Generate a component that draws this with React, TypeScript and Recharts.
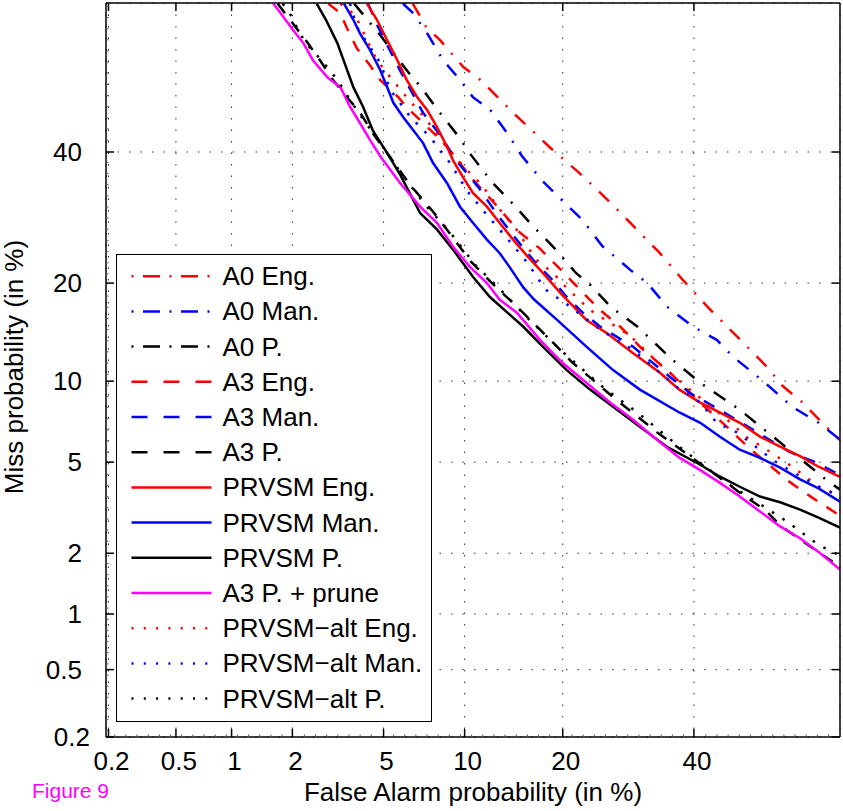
import React from "react";
import { CartesianGrid, Legend, Line, LineChart, XAxis, YAxis } from "recharts";

// DET plot: miss vs false alarm, both on a normal-deviate (probit) scale.
// Values below are in percent.

const tickValues = [0.2, 0.5, 1, 2, 5, 10, 20, 40];
const tickLabels = ["0.2", "0.5", "1", "2", "5", "10", "20", "40"];
const xLimits = [0.193, 65.6];
const yLimits = [0.2, 66.1];

const a0EngFA = [6.5, 7.3, 8.2, 9.9, 11.3, 14.5, 18.5, 21.8, 24, 27.4, 31, 34.2, 38.1, 42.3, 48.1, 52.9, 55.8, 59.3, 62.6, 65.6];
const a0EngMiss = [66, 62.1, 59.8, 55.1, 52.8, 46.7, 40.7, 36.8, 34.3, 30.6, 26.9, 24, 20.4, 17.2, 13.7, 11.2, 9.6, 8.4, 7.1, 6.1];

const a0ManFA = [5.96, 6.53, 7.36, 8.41, 9.64, 10.67, 12.14, 13.85, 15.28, 17.54, 20.49, 22.6, 25.3, 29.5, 32.2, 35.4, 39.8, 44, 46.9, 50.4, 54, 57.4, 62, 65.6];
const a0ManMiss = [66, 64.4, 61, 56.3, 52.8, 49.7, 47.5, 43.1, 39.3, 35.1, 31.2, 28.8, 25, 21.7, 20, 17.2, 15, 13.65, 12.05, 10.7, 9.35, 8.13, 7.1, 6.13];

const a0PFA = [3.78, 4.84, 6.24, 7.04, 7.99, 9.5, 10.51, 12.32, 14.55, 16.26, 18.8, 21.7, 23.6, 26.5, 30.6, 36.3, 41.1, 48.1, 53.1, 63.5, 65.6];
const a0PMiss = [66, 60.7, 54.2, 51.3, 47.6, 42.8, 39.5, 34.9, 31, 28.2, 24.9, 21.3, 19.8, 17.2, 15, 11.8, 9.87, 7.93, 6.53, 4.2, 3.85];

const a3EngFA = [2.92, 3.3, 3.52, 3.88, 4.4, 4.84, 5.72, 6.16, 7.04, 8.34, 10.76, 12.79, 15.05, 17.27, 19.78, 22.37, 25, 27.95, 31.5, 35.9, 41.1, 45.8, 49.7, 56.9, 60.9, 65.6];
const a3EngMiss = [66, 64.4, 61.9, 58.4, 55.4, 52.8, 49.7, 47.9, 45.3, 41.9, 35.1, 31, 26.95, 24.6, 21.7, 19.05, 16.8, 15, 12.7, 10.7, 8.4, 6.86, 5.7, 4.16, 3.56, 2.97];

const a3ManFA = [4.32, 4.75, 5.82, 7.11, 8.2, 9.34, 11.1, 12.9, 14.55, 16.6, 18.9, 20.5, 22.6, 25, 29.9, 33.8, 39.3, 44.5, 50.4, 56.9, 61.2, 65.6];
const a3ManMiss = [66, 62.1, 54.4, 46.9, 43, 38.6, 34.1, 29.5, 26.2, 22.9, 20.2, 18.3, 16.5, 15, 13, 11.2, 9.1, 7.93, 6.7, 5.5, 5.02, 4.44];

const a3PFA = [1.7, 1.95, 2.36, 2.7, 3.06, 3.52, 4, 4.52, 5.17, 6.36, 7.74, 9.11, 10.51, 12.32, 14.36, 16.5, 18.9, 21.3, 24, 26.9, 30.6, 33.8, 41.1, 44.5, 48.1, 52.8, 55.3, 58.8, 62.4, 65.6];
const a3PMiss = [66, 63.3, 59.3, 56.1, 52.8, 49.7, 47, 43.3, 39.8, 34.4, 30.1, 26.2, 22.8, 20, 17.6, 15.4, 13.3, 11.5, 10.1, 8.8, 7.5, 6.53, 4.93, 4.33, 3.74, 3.12, 2.69, 2.32, 1.99, 1.72];

const prvsmEngFA = [4.28, 4.7, 5.17, 5.67, 6.16, 6.76, 7.36, 7.99, 8.69, 9.11, 9.87, 10.67, 11.87, 13.03, 14.36, 15.9, 17.6, 19.7, 23.1, 26, 29.9, 34.2, 37.5, 41.1, 44.5, 48.1, 51.7, 55.3, 58.8, 62, 65.6];
const prvsmEngMiss = [66, 63.3, 59.8, 56.3, 52.8, 49.7, 47.4, 44.4, 40.9, 38.6, 35.7, 33.1, 30.9, 28.4, 25.9, 23.5, 21.3, 18.8, 15.7, 14.3, 12.4, 10.7, 9.35, 8.41, 7.75, 7.1, 6.3, 5.76, 5.28, 4.79, 4.35];

const prvsmManFA = [3.42, 3.75, 4, 4.4, 4.84, 5.17, 5.47, 5.96, 6.53, 7.1, 7.74, 8.69, 9.64, 10.67, 11.87, 13.03, 14, 15.4, 16.6, 19.3, 23.1, 26.9, 31, 37.5, 41.1, 44.5, 48.1, 51.7, 55.3, 58.8, 62, 65.6];
const prvsmManMiss = [66, 63.3, 61, 58.1, 54.6, 51.5, 48.7, 46.2, 43.8, 41.6, 38.1, 34.7, 30.9, 28.4, 25.9, 24, 22.1, 19.5, 18, 15.7, 13, 10.9, 9.35, 7.75, 7.1, 6.3, 5.6, 5.2, 4.75, 4.25, 3.9, 3.42];

const prvsmPFA = [2.59, 2.85, 3.2, 3.42, 3.75, 4.12, 4.52, 5.17, 5.82, 6.93, 7.99, 9.11, 10.67, 12.14, 15.4, 17.6, 20.5, 23.6, 26.9, 31, 35.4, 41.1, 44.5, 48.1, 51.7, 55.3, 58.8, 62, 65.6];
const prvsmPMiss = [66, 63.3, 59.3, 56.1, 51.5, 48, 43.8, 39.8, 36.1, 29.9, 27.4, 24.5, 20.8, 18.3, 15, 13, 10.9, 9.35, 8.13, 6.86, 5.75, 4.88, 4.37, 3.96, 3.6, 3.4, 3.16, 2.91, 2.63];

const pruneFA = [1.62, 1.76, 2.01, 2.25, 2.49, 2.9, 3.3, 3.63, 4, 4.4, 4.88, 5.82, 6.93, 7.99, 9.11, 10.43, 11.87, 13.03, 14.75, 17.27, 20, 23.1, 26.5, 29.9, 33.1, 37.5, 41.1, 44.5, 48.1, 51.7, 55.3, 58.8, 62, 65.6];
const pruneMiss = [66, 64.4, 61.6, 59.3, 56.3, 53.2, 51.5, 48, 45.1, 42.1, 39.1, 34.7, 30.9, 28.4, 24.9, 22.1, 20, 18, 16.5, 13.65, 11.5, 9.87, 8.41, 7.3, 6.3, 5.21, 4.64, 4.12, 3.6, 3.1, 2.66, 2.35, 2.03, 1.67];

const altEngFA = [3.3, 3.82, 4.28, 4.7, 5.42, 6.16, 7.23, 8.55, 10.01, 11.43, 12.9, 14.75, 16.8, 18.8, 20.5, 23.6, 29.4, 34.2, 39.3, 45.8, 49.4, 52.9, 57.4, 62, 65.6];
const altEngMiss = [66, 64.1, 59.8, 56.3, 52.8, 49.7, 46, 41.2, 37.3, 34.4, 30.8, 27.3, 23.1, 21.3, 19.4, 16.8, 14.1, 11.4, 9.35, 7.3, 6.25, 5.6, 4.8, 3.96, 3.6];

const altManFA = [3.63, 3.88, 4.84, 5.32, 6.36, 7.55, 8.9, 10.25, 11.87, 13.6, 15.9, 17.9, 20.9, 25, 29.9, 37, 41.1, 44, 47.6, 51.2, 54, 56.9, 62, 65.6];
const altManMiss = [66, 62.1, 55.9, 51, 46.2, 42.6, 38.1, 33.3, 29.6, 26.4, 22.6, 19.2, 17.2, 14.7, 12.7, 9.57, 8.41, 7.1, 6.53, 5.7, 5.1, 4.65, 3.96, 3.63];

const altPFA = [1.8, 1.99, 2.16, 2.4, 2.75, 3.2, 3.63, 4.15, 4.84, 5.82, 7.23, 8.9, 10.84, 13.03, 15.9, 19.7, 25, 31, 37.5, 45.8, 51.7, 56.3, 62, 65.6];
const altPMiss = [66, 63.8, 61, 58.6, 56.1, 52.8, 49.2, 45.6, 41.6, 36.6, 31.2, 27, 22.4, 19.3, 15.9, 12.7, 9.72, 7.62, 5.75, 4.1, 3.34, 2.82, 2.19, 1.95];

const FONT = '"Liberation Sans", Arial, Helvetica, sans-serif';
const RED = "#ff0000";
const BLUE = "#0000ff";
const BLACK = "#000000";
const MAGENTA = "#ff00ff";

// line styles: plot dash pattern, legend dash pattern
const DASHDOT = { plot: "14 11 2 11", legend: "2 9.5 17 9.5" };
const DASHED = { plot: "12 11", legend: "16 16" };
const SOLID = { plot: undefined, legend: undefined };
const DOTTED = { plot: "2.5 10", legend: "2 10.3" };

// inverse of the standard normal CDF (Acklam)
function probit(p: number): number {
  const a = [-39.69683028665376, 220.9460984245205, -275.9285104469687, 138.357751867269, -30.66479806614716, 2.506628277459239];
  const b = [-54.47609879822406, 161.5858368580409, -155.6989798598866, 66.80131188771972, -13.28068155288572];
  const c = [-0.007784894002430293, -0.3223964580411365, -2.400758277161838, -2.549732539343734, 4.374664141464968, 2.938163982698783];
  const d = [0.007784695709041462, 0.3224671290700398, 2.445134137142996, 3.754408661907416];
  const plow = 0.02425;
  if (p < plow) {
    const q = Math.sqrt(-2 * Math.log(p));
    return (((((c[0] * q + c[1]) * q + c[2]) * q + c[3]) * q + c[4]) * q + c[5]) / ((((d[0] * q + d[1]) * q + d[2]) * q + d[3]) * q + 1);
  }
  if (p <= 1 - plow) {
    const q = p - 0.5;
    const r = q * q;
    return ((((((a[0] * r + a[1]) * r + a[2]) * r + a[3]) * r + a[4]) * r + a[5]) * q) / (((((b[0] * r + b[1]) * r + b[2]) * r + b[3]) * r + b[4]) * r + 1);
  }
  const q = Math.sqrt(-2 * Math.log(1 - p));
  return -(((((c[0] * q + c[1]) * q + c[2]) * q + c[3]) * q + c[4]) * q + c[5]) / ((((d[0] * q + d[1]) * q + d[2]) * q + d[3]) * q + 1);
}

const toPoints = (fa: number[], miss: number[]) =>
  fa.map((f, i) => ({ x: probit(f / 100), y: probit(miss[i] / 100) }));

const series = [
  { name: "A0 Eng.", fa: a0EngFA, miss: a0EngMiss, color: RED, style: DASHDOT },
  { name: "A0 Man.", fa: a0ManFA, miss: a0ManMiss, color: BLUE, style: DASHDOT },
  { name: "A0 P.", fa: a0PFA, miss: a0PMiss, color: BLACK, style: DASHDOT },
  { name: "A3 Eng.", fa: a3EngFA, miss: a3EngMiss, color: RED, style: DASHED },
  { name: "A3 Man.", fa: a3ManFA, miss: a3ManMiss, color: BLUE, style: DASHED },
  { name: "A3 P.", fa: a3PFA, miss: a3PMiss, color: BLACK, style: DASHED },
  { name: "PRVSM Eng.", fa: prvsmEngFA, miss: prvsmEngMiss, color: RED, style: SOLID },
  { name: "PRVSM Man.", fa: prvsmManFA, miss: prvsmManMiss, color: BLUE, style: SOLID },
  { name: "PRVSM P.", fa: prvsmPFA, miss: prvsmPMiss, color: BLACK, style: SOLID },
  { name: "A3 P. + prune", fa: pruneFA, miss: pruneMiss, color: MAGENTA, style: SOLID },
  { name: "PRVSM\u2212alt Eng.", fa: altEngFA, miss: altEngMiss, color: RED, style: DOTTED },
  { name: "PRVSM\u2212alt Man.", fa: altManFA, miss: altManMiss, color: BLUE, style: DOTTED },
  { name: "PRVSM\u2212alt P.", fa: altPFA, miss: altPMiss, color: BLACK, style: DOTTED },
];

const xDomain: [number, number] = [probit(xLimits[0] / 100), probit(xLimits[1] / 100)];
const yDomain: [number, number] = [probit(yLimits[0] / 100), probit(yLimits[1] / 100)];
const majors = tickValues.map((v) => probit(v / 100));

// small unlabeled ticks every 0.05 deviate along the left and bottom edges
function withMinor(domain: [number, number]) {
  const out = [...majors];
  for (let v = Math.ceil(domain[0] / 0.05) * 0.05; v <= domain[1]; v += 0.05) {
    if (!majors.some((m) => Math.abs(m - v) < 0.01)) out.push(v);
  }
  return out.sort((a, b) => a - b);
}

const majorIndex = (v: number) => majors.findIndex((m) => Math.abs(m - v) < 1e-9);

const BottomTick = (props: any) => {
  const { x, y, payload } = props;
  const i = majorIndex(payload.value);
  if (i < 0) return <line x1={x} x2={x} y1={y} y2={y - 2.5} stroke="#555" strokeWidth={1} />;
  return (
    <g>
      <line x1={x} x2={x} y1={y} y2={y - 8} stroke="#000" strokeWidth={1.5} />
      <text x={x + 3} y={y + 33} textAnchor="middle" fontSize={26} fontFamily={FONT} fill="#000">
        {tickLabels[i]}
      </text>
    </g>
  );
};

const LeftTick = (props: any) => {
  const { x, y, payload } = props;
  const i = majorIndex(payload.value);
  if (i < 0) return <line x1={x} x2={x + 2.5} y1={y} y2={y} stroke="#555" strokeWidth={1} />;
  return (
    <g>
      <line x1={x} x2={x + 8} y1={y} y2={y} stroke="#000" strokeWidth={1.5} />
      <text x={x - (i === 0 ? 16 : 24)} y={y + 9} textAnchor="end" fontSize={26} fontFamily={FONT} fill="#000">
        {tickLabels[i]}
      </text>
    </g>
  );
};

const TopTick = (props: any) => (
  <line x1={props.x} x2={props.x} y1={props.y} y2={props.y + 8} stroke="#000" strokeWidth={1.5} />
);

const RightTick = (props: any) => (
  <line x1={props.x} x2={props.x - 8} y1={props.y} y2={props.y} stroke="#000" strokeWidth={1.5} />
);

const XLabel = (p: any) => {
  const vb = p.viewBox ?? { x: 106, y: 737, width: 734, height: 74 };
  return (
    <g>
      <text x={vb.x + vb.width / 2} y={vb.y + 64} textAnchor="middle" fontSize={26} fontFamily={FONT} fill="#000">
        False Alarm probability (in %)
      </text>
      <text x={32} y={vb.y + 61} fontSize={21} fontFamily={FONT} fill={MAGENTA}>
        Figure 9
      </text>
    </g>
  );
};

const YLabel = (p: any) => {
  const vb = p.viewBox ?? { x: 0, y: 3, width: 106, height: 734 };
  const cx = 23;
  const cy = vb.y + vb.height / 2 - 3;
  return (
    <text x={cx} y={cy} transform={`rotate(-90, ${cx}, ${cy})`} textAnchor="middle" fontSize={26} fontFamily={FONT} fill="#000">
      Miss probability (in %)
    </text>
  );
};

const LegendBox = () => (
  <div style={{ width: 316, height: 468, boxSizing: "border-box", border: "1.5px solid #000", background: "#fff" }}>
    <svg width={313} height={465} style={{ display: "block" }}>
      {series.map((s, i) => {
        const cy = 21.2 + i * 35.2;
        return (
          <g key={s.name}>
            <line x1={14.5} x2={94.5} y1={cy} y2={cy} stroke={s.color} strokeWidth={2.5} strokeDasharray={s.style.legend} />
            <text x={105.5} y={cy + 9} fontSize={26} fontFamily={FONT} fill="#000">
              {s.name}
            </text>
          </g>
        );
      })}
    </svg>
  </div>
);

export default function App() {
  return (
    <div style={{ position: "absolute", left: 0, top: 0, width: 843, height: 811, background: "#fff" }}>
      <LineChart width={843} height={811} margin={{ top: 0, right: 0, bottom: 0, left: 0 }}>
        <CartesianGrid xAxisId="top" yAxisId="right" stroke="#333" strokeWidth={1} strokeDasharray="1.5 10" />
        {series.map((s) => (
          <Line
            key={s.name}
            xAxisId="bottom"
            yAxisId="left"
            name={s.name}
            data={toPoints(s.fa, s.miss)}
            dataKey="y"
            type="linear"
            stroke={s.color}
            strokeWidth={2.5}
            strokeDasharray={s.style.plot}
            dot={false}
            activeDot={false}
            isAnimationActive={false}
          />
        ))}
        <XAxis
          xAxisId="bottom"
          type="number"
          dataKey="x"
          domain={xDomain}
          allowDataOverflow
          ticks={withMinor(xDomain)}
          interval={0}
          height={74}
          tickSize={0}
          tickMargin={0}
          tickLine={false}
          tick={BottomTick}
          axisLine={{ stroke: "#000", strokeWidth: 1.5 }}
          label={XLabel}
        />
        <XAxis
          xAxisId="top"
          orientation="top"
          type="number"
          dataKey="x"
          domain={xDomain}
          allowDataOverflow
          ticks={majors}
          interval={0}
          height={3}
          tickSize={0}
          tickMargin={0}
          tickLine={false}
          tick={TopTick}
          axisLine={{ stroke: "#000", strokeWidth: 1.5 }}
        />
        <YAxis
          yAxisId="left"
          type="number"
          domain={yDomain}
          allowDataOverflow
          ticks={withMinor(yDomain)}
          interval={0}
          width={106}
          tickSize={0}
          tickMargin={0}
          tickLine={false}
          tick={LeftTick}
          axisLine={{ stroke: "#000", strokeWidth: 1.5 }}
          label={YLabel}
        />
        <YAxis
          yAxisId="right"
          orientation="right"
          type="number"
          domain={yDomain}
          allowDataOverflow
          ticks={majors}
          interval={0}
          width={3}
          tickSize={0}
          tickMargin={0}
          tickLine={false}
          tick={RightTick}
          axisLine={{ stroke: "#000", strokeWidth: 1.5 }}
        />
        <Legend
          layout="horizontal"
          verticalAlign="middle"
          align="center"
          wrapperStyle={{ position: "absolute", left: 116, top: 254, width: 316, height: 468 }}
          content={LegendBox}
        />
      </LineChart>
    </div>
  );
}
